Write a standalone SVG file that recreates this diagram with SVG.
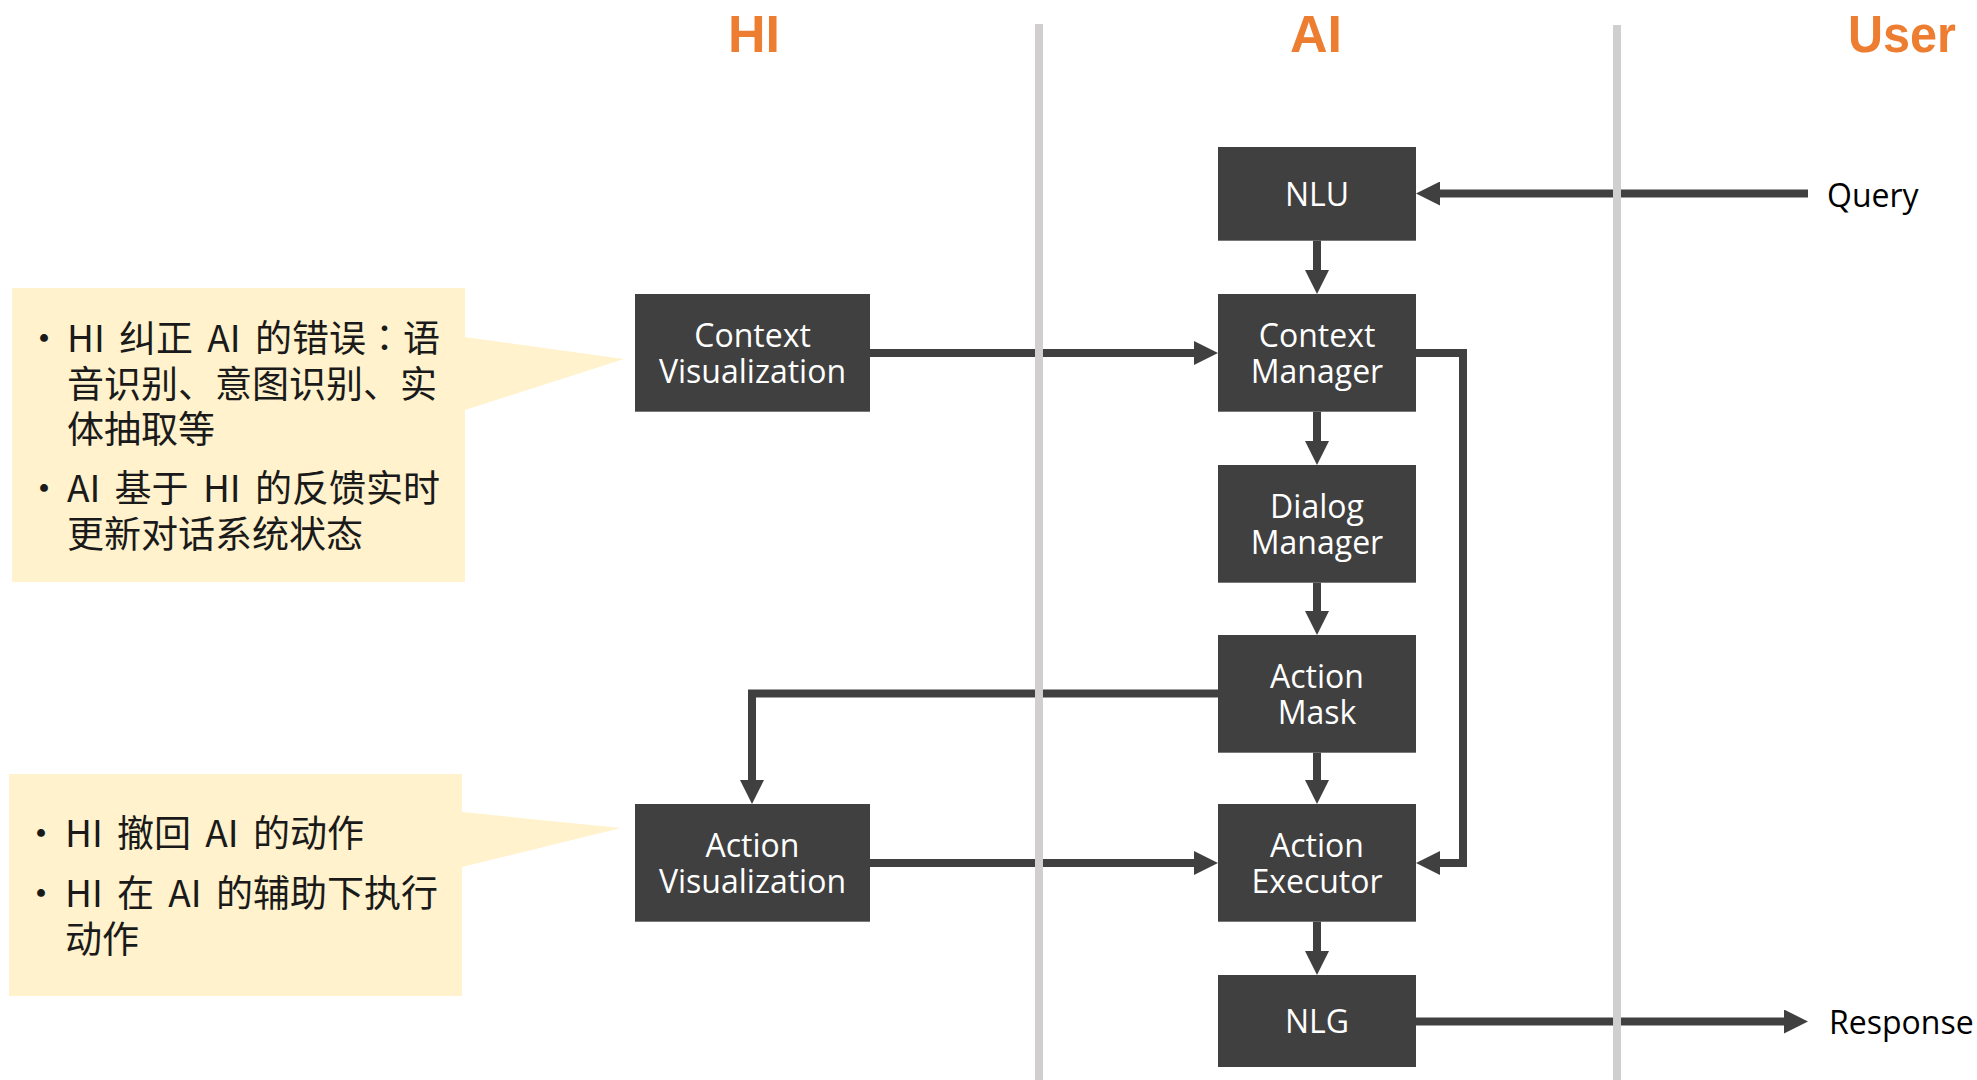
<svg xmlns="http://www.w3.org/2000/svg" width="1977" height="1080" viewBox="0 0 1977 1080">
<style>
.box{fill:#404040}
.bt{font-family:"Open Sans","Noto Sans",sans-serif;font-size:32px;fill:#ffffff;text-anchor:middle}
.lt{font-family:"Open Sans","Noto Sans",sans-serif;font-size:32px;fill:#000000}
.title{font-family:"Liberation Sans",Arial,sans-serif;font-weight:bold;font-size:52px;fill:#ED7D31;text-anchor:middle}
.ct{font-family:"Noto Sans CJK SC","Noto Sans",sans-serif;font-size:37px;fill:#1a1a1a;word-spacing:6px}
.colon{font-family:"Noto Sans CJK TC","Noto Sans CJK SC",sans-serif}
.callout{fill:#FFF2CC}
.conn{fill:none;stroke:#404040;stroke-width:8;stroke-linejoin:miter;stroke-linecap:butt;marker-end:url(#arr)}
.lane{stroke:#D0CECF;stroke-width:8}
</style>
<defs>
<marker id="arr" viewBox="0 0 3 3" markerWidth="3" markerHeight="3" markerUnits="strokeWidth" refX="0" refY="1.5" orient="auto">
<path d="M0,0 L3,1.5 L0,3 z" fill="#404040"/>
</marker>
</defs>
<rect width="1977" height="1080" fill="#ffffff"/>

<g id="titles">
<text class="title" x="754" y="52">HI</text>
<text class="title" x="1316" y="52">AI</text>
<text class="title" x="1902" y="52" textLength="108" lengthAdjust="spacingAndGlyphs">User</text>
</g>

<g id="callout-context">
<path class="callout" d="M12,288 H465 V337 L624,359 L465,410 V582 H12 Z"/>
<text class="ct" x="44" y="352" text-anchor="middle">•</text>
<text class="ct" x="67" y="352">HI 纠正 AI 的错误<tspan class="colon">：</tspan>语</text>
<text class="ct" x="67" y="398">音识别、意图识别、实</text>
<text class="ct" x="67" y="443">体抽取等</text>
<text class="ct" x="44" y="502" text-anchor="middle">•</text>
<text class="ct" x="67" y="502">AI 基于 HI 的反馈实时</text>
<text class="ct" x="67" y="548">更新对话系统状态</text>
</g>

<g id="callout-action">
<path class="callout" d="M9,774 H462 V812 L621,828 L462,867 V996 H9 Z"/>
<text class="ct" x="41" y="847" text-anchor="middle">•</text>
<text class="ct" x="65" y="847">HI 撤回 AI 的动作</text>
<text class="ct" x="41" y="907" text-anchor="middle">•</text>
<text class="ct" x="65" y="907">HI 在 AI 的辅助下执行</text>
<text class="ct" x="65" y="953">动作</text>
</g>

<g id="connectors">
<path class="conn" d="M1808,193.5 H1440"/>
<path class="conn" d="M1317,240.7 V270"/>
<path class="conn" d="M1317,411.7 V441"/>
<path class="conn" d="M1317,582.7 V611"/>
<path class="conn" d="M1317,752.7 V780"/>
<path class="conn" d="M1317,921.7 V951"/>
<path class="conn" d="M870,353 H1194"/>
<path class="conn" d="M870,863 H1194"/>
<path class="conn" d="M1218,693.5 H752 V780"/>
<path class="conn" d="M1416,353 H1463 V863 H1440"/>
<path class="conn" d="M1416,1021.5 H1784"/>
</g>

<g id="lanes">
<line class="lane" x1="1039" y1="24" x2="1039" y2="1080"/>
<line class="lane" x1="1617" y1="25" x2="1617" y2="1080"/>
</g>

<g id="nlu">
<rect class="box" x="1218" y="147" width="198" height="93.7"/>
<text class="bt" x="1317" y="206">NLU</text>
</g>
<g id="context-manager">
<rect class="box" x="1218" y="294" width="198" height="117.7"/>
<text class="bt" x="1317" y="347">Context</text>
<text class="bt" x="1317" y="383">Manager</text>
</g>
<g id="dialog-manager">
<rect class="box" x="1218" y="465" width="198" height="117.7"/>
<text class="bt" x="1317" y="518">Dialog</text>
<text class="bt" x="1317" y="554">Manager</text>
</g>
<g id="action-mask">
<rect class="box" x="1218" y="635" width="198" height="117.7"/>
<text class="bt" x="1317" y="688">Action</text>
<text class="bt" x="1317" y="724">Mask</text>
</g>
<g id="action-executor">
<rect class="box" x="1218" y="804" width="198" height="117.7"/>
<text class="bt" x="1317" y="857">Action</text>
<text class="bt" x="1317" y="893">Executor</text>
</g>
<g id="nlg">
<rect class="box" x="1218" y="975" width="198" height="92"/>
<text class="bt" x="1317" y="1033">NLG</text>
</g>
<g id="context-visualization">
<rect class="box" x="635" y="294" width="235" height="117.7"/>
<text class="bt" x="752.5" y="347">Context</text>
<text class="bt" x="752.5" y="383">Visualization</text>
</g>
<g id="action-visualization">
<rect class="box" x="635" y="804" width="235" height="117.7"/>
<text class="bt" x="752.5" y="857">Action</text>
<text class="bt" x="752.5" y="893">Visualization</text>
</g>

<g id="user-io">
<text class="lt" x="1827" y="207">Query</text>
<text class="lt" x="1829" y="1034">Response</text>
</g>
</svg>
